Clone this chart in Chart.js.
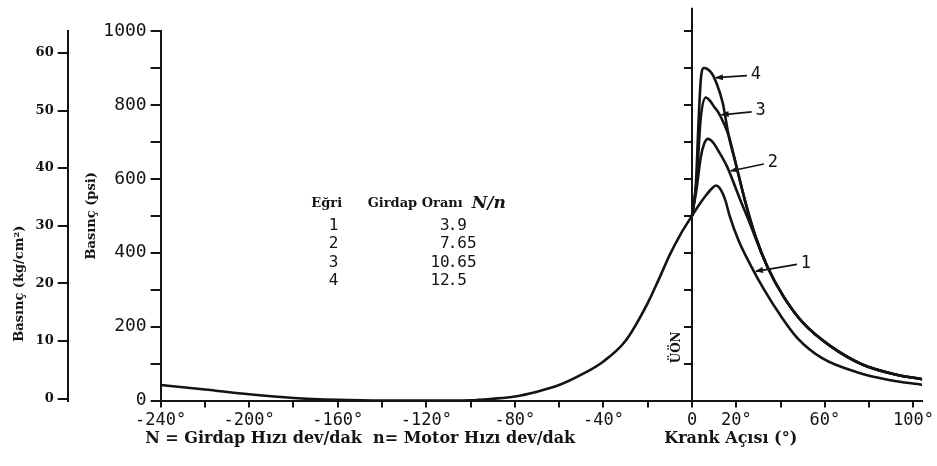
<!DOCTYPE html>
<html>
<head>
<meta charset="utf-8">
<script src="https://cdn.jsdelivr.net/npm/chart.js@4/dist/chart.umd.min.js"></script>
<style>
  html, body { margin: 0; padding: 0; background: #fff; }
  #wrap { width: 937px; height: 466px; }
</style>
</head>
<body>
<div id="wrap"><canvas id="myChart"></canvas></div>
<script>
// crank angle (deg) and pressure (psi) before TDC, shared by all curves
const commonAngle = [-240, -220, -200, -180, -160, -140, -120, -100, -90, -80, -70, -60, -50, -40, -30, -20, -15, -10, -5, 0];
const commonPsi   = [42, 30, 17, 7, 2, 0, 0, 1, 5, 11, 24, 42, 70, 106, 162, 264, 328, 395, 452, 500];

// after TDC
const curve1Angle = [3, 6, 9, 10.8, 12.5, 15, 17, 21, 26.5, 32.3, 40, 47.5, 59, 74.5, 89, 104];
const curve1Psi   = [528, 553, 574, 582, 575, 543, 500, 434, 366, 303, 230, 170, 114, 77, 56, 43];

// curves 3 and 4 (and later 2) run together on this tail
const tailAngle = [16.6, 19.7, 24.2, 28.7, 34, 41.3, 50.2, 62.4, 77.2, 92.4, 104];
const tailPsi   = [716, 643, 535, 444, 363, 282, 210, 148, 97, 70, 58];

const curve2Angle = [2, 4, 5.5, 7.2, 9, 12, 15.7, 22, 26, 30];
const curve2Psi   = [570, 660, 695, 708, 702, 675, 635, 540, 482, 420];
const curve3Angle = [2, 4, 6.3, 8, 10, 12.1, 14.4];
const curve3Psi   = [590, 767, 820, 812, 795, 778, 750];
const curve4Angle = [1.8, 3, 4, 5.4, 7, 9, 11, 13.9];
const curve4Psi   = [590, 760, 870, 900, 897, 885, 860, 805];

// legend table: curve number and swirl ratio N/n
const curveNames  = ['1', '2', '3', '4'];
const swirlRatios = ['3.9', '7.65', '10.65', '12.5'];
// where the numbered arrows touch each curve (deg)
const arrowAngles = [28, 16.6, 12.5, 9.9];

const xTicks = [-240, -220, -200, -180, -160, -140, -120, -100, -80, -60, -40, -20, 0, 20, 40, 60, 80, 100];
const xTickLabels = [-240, -200, -160, -120, -80, -40, 0, 20, 60, 100];
const kgTicks = [0, 10, 20, 30, 40, 50, 60];
const tdcTop = 1063;

const ink = '#141414';
const serif = '"DejaVu Serif", serif';
const mono = '"DejaVu Sans Mono", monospace';

const pts = (a, p) => a.map((v, i) => ({x: v, y: p[i]}));
const last = commonAngle.length - 1;
const tdcPoint = [{x: commonAngle[last], y: commonPsi[last]}];

const curves = [
  tdcPoint.concat(pts(curve1Angle, curve1Psi)),
  tdcPoint.concat(pts(curve2Angle, curve2Psi), pts(tailAngle.slice(4), tailPsi.slice(4))),
  tdcPoint.concat(pts(curve3Angle, curve3Psi), pts(tailAngle, tailPsi)),
  tdcPoint.concat(pts(curve4Angle, curve4Psi), pts(tailAngle, tailPsi))
];

function psiAt(data, a) {
  for (let i = 1; i < data.length; i++) {
    if (data[i].x >= a) {
      const p = data[i - 1], q = data[i];
      return p.y + (q.y - p.y) * (a - p.x) / (q.x - p.x);
    }
  }
  return data[data.length - 1].y;
}

const lineStyle = {
  borderColor: ink, borderWidth: 2.6, pointRadius: 0,
  cubicInterpolationMode: 'monotone', fill: false
};

// texts: legend table, axis captions, curve numbers with arrows
const notes = {
  id: 'notes',
  afterDraw(chart) {
    const {ctx} = chart;
    const x = chart.scales.x, y = chart.scales.y;
    ctx.save();
    ctx.fillStyle = ink;
    ctx.strokeStyle = ink;
    ctx.textBaseline = 'middle';

    // table
    const ax = x.getPixelForValue(-165), ay = y.getPixelForValue(533);
    ctx.font = 'bold 13px ' + serif;
    ctx.textAlign = 'center';
    ctx.fillText('Eğri', ax, ay);
    ctx.textAlign = 'left';
    ctx.fillText('Girdap Oranı', ax + 41, ay);
    ctx.font = 'italic bold 17px ' + serif;
    ctx.fillText('N/n', ax + 145, ay);
    ctx.font = '16px ' + mono;
    curveNames.forEach((n, i) => {
      const ry = ay + 22 + i * 18.5;
      ctx.textAlign = 'center';
      ctx.fillText(n, ax + 7, ry);
      const parts = swirlRatios[i].split('.');
      ctx.textAlign = 'right';
      ctx.fillText(parts[0], ax + 123, ry);
      ctx.textAlign = 'left';
      ctx.fillText('.' + parts[1], ax + 121, ry);
    });

    // bottom captions
    const by = x.bottom + 5;
    ctx.font = 'bold 16px ' + serif;
    ctx.textAlign = 'left';
    ctx.fillText('N = Girdap Hızı dev/dak  n= Motor Hızı dev/dak', x.getPixelForValue(-247), by);
    ctx.textAlign = 'center';
    ctx.fillText('Krank Açısı (°)', x.getPixelForValue(17.5), by);

    // TDC mark
    ctx.save();
    ctx.translate(x.getPixelForValue(-7), y.getPixelForValue(144));
    ctx.rotate(-Math.PI / 2);
    ctx.font = 'bold 12px ' + serif;
    ctx.fillText('ÜÖN', 0, 0);
    ctx.restore();

    // numbered arrows
    const offs = [[52, -8], [44, -8], [41, -4], [42, -3]];
    ctx.font = '17px ' + mono;
    ctx.lineWidth = 1.6;
    curves.forEach((data, i) => {
      const a = arrowAngles[i];
      const tx = x.getPixelForValue(a), ty = y.getPixelForValue(psiAt(data, a));
      const lx = tx + offs[i][0], ly = ty + offs[i][1];
      const sx = lx - 9, sy = ly + 1;
      ctx.beginPath();
      ctx.moveTo(sx, sy);
      ctx.lineTo(tx + 2, ty);
      ctx.stroke();
      const ang = Math.atan2(ty - sy, tx - sx);
      ctx.beginPath();
      ctx.moveTo(tx + 1, ty);
      ctx.lineTo(tx + 1 - 8 * Math.cos(ang) + 3 * Math.sin(ang), ty - 8 * Math.sin(ang) - 3 * Math.cos(ang));
      ctx.lineTo(tx + 1 - 8 * Math.cos(ang) - 3 * Math.sin(ang), ty - 8 * Math.sin(ang) + 3 * Math.cos(ang));
      ctx.closePath();
      ctx.fill();
      ctx.textAlign = 'center';
      ctx.fillText(curveNames[i], lx, ly);
    });
    ctx.restore();
  }
};

const ctx = document.getElementById('myChart').getContext('2d');

new Chart(ctx, {
  type: 'line',
  data: {
    datasets: [
      {...lineStyle, data: pts(commonAngle, commonPsi)},
      {...lineStyle, data: curves[0]},
      {...lineStyle, data: curves[1]},
      {...lineStyle, data: curves[2]},
      {...lineStyle, data: curves[3]},
      // TDC line, runs above the psi scale
      {borderColor: ink, borderWidth: 2, pointRadius: 0, clip: false,
       data: [{x: 0, y: 0}, {x: 0, y: tdcTop}]}
    ]
  },
  options: {
    responsive: true,
    maintainAspectRatio: false,
    animation: false,
    layout: { padding: { top: 31, right: 12, bottom: 32, left: 0 } },
    plugins: { legend: { display: false }, tooltip: { enabled: false } },
    scales: {
      x: {
        type: 'linear', min: -240, max: 104,
        afterBuildTicks: s => { s.ticks = xTicks.map(v => ({value: v})); },
        ticks: {
          color: ink, font: { family: mono, size: 17 }, padding: 3, maxRotation: 0,
          autoSkip: false,
          callback: v => xTickLabels.includes(v) ? (v === 0 ? '0' : v + '°') : ''
        },
        grid: { drawOnChartArea: false, color: ink, lineWidth: 2, tickLength: 7 },
        border: { color: ink, width: 2 }
      },
      y: {
        axis: 'y', position: 'left', weight: 1, min: 0, max: 1000,
        ticks: {
          stepSize: 100, color: ink, font: { family: mono, size: 18 }, padding: 4,
          callback: v => v % 200 === 0 ? v : ''
        },
        grid: { drawOnChartArea: false, color: ink, lineWidth: 2, tickLength: 10 },
        border: { color: ink, width: 2 },
        title: {
          display: true, text: 'Basınç (psi)', color: ink,
          font: { family: serif, size: 13, weight: 'bold' }, padding: { top: 16, bottom: 0 }
        }
      },
      kg: {
        type: 'linear', axis: 'y', position: 'left', weight: 2, min: -0.35, max: 63.8,
        afterBuildTicks: s => { s.ticks = kgTicks.map(v => ({value: v})); },
        ticks: { color: ink, font: { family: serif, size: 13, weight: 'bold' }, padding: 4 },
        grid: { drawOnChartArea: false, color: ink, lineWidth: 2, tickLength: 10 },
        border: { color: ink, width: 2 },
        title: {
          display: true, text: 'Basınç (kg/cm²)' + '\u00a0'.repeat(30), color: ink,
          font: { family: serif, size: 13, weight: 'bold' }, padding: { top: 12, bottom: 4 }
        }
      },
      tdc: {
        type: 'linear', axis: 'y', position: { x: 0 }, min: 0, max: 1000,
        ticks: { display: false, stepSize: 100 },
        grid: { drawOnChartArea: false, color: ink, lineWidth: 2, tickLength: 8 },
        border: { display: false }
      }
    }
  },
  plugins: [notes]
});
</script>
</body>
</html>
